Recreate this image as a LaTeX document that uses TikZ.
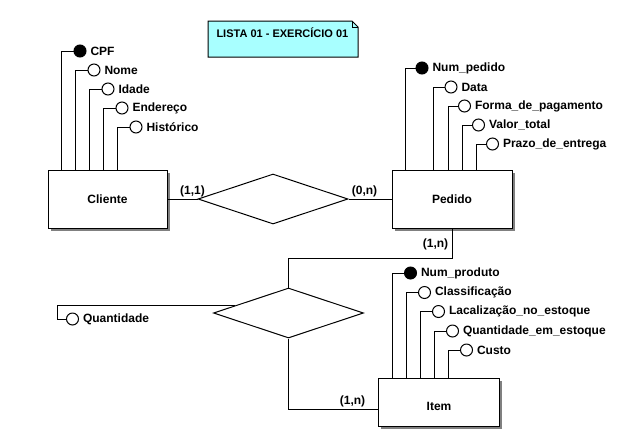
\documentclass[tikz,border=0pt]{standalone}
\usepackage{fontspec}
\setmainfont{Liberation Sans}
\usepackage{tikz}
\usetikzlibrary{shapes.geometric,shadows}
\definecolor{notacyan}{RGB}{168,255,255}

\tikzset{
  entidade/.style={draw, fill=white, inner sep=0pt, font=\bfseries\fontsize{12}{14}\selectfont,
    general shadow={fill=gray, shadow xshift=2.5pt, shadow yshift=-2.5pt}},
  relacao/.style={draw, diamond, inner sep=0pt, minimum width=150pt, minimum height=50pt},
  chave/.style={draw, circle, fill=black, minimum size=12pt, inner sep=0pt},
  atributo/.style={chave, fill=white},
  rotulo/.style={font=\bfseries\fontsize{12}{14}\selectfont, inner sep=1.5pt},
  titulo/.style={font=\bfseries\fontsize{11}{13}\selectfont, inner sep=1.5pt}
}

\begin{document}
\begin{tikzpicture}[x=1pt, y=-1pt, line width=1pt,
    every label/.style={rotulo}, label distance=2pt]
          \path[use as bounding box, fill=white] (0,0) rectangle (617,440);

          % title note
          \draw[fill=notacyan] (208,21) -- (352,21) -- (358,27) -- (358,57) -- (208,57) -- cycle;
          \draw (352,21) -- (352,27) -- (358,27);
          \node[titulo, anchor=west] (lista) at (214.5,32.5) {LISTA 01 - EXERCÍCIO 01};

          % Cliente
          \node[entidade, minimum width=119pt, minimum height=58pt] (cliente) at (107.5,199) {Cliente};
          \node[chave, label=right:CPF] (cpf) at (80,51) {};
          \node[atributo, label=right:Nome] (nome) at (94,70) {};
          \node[atributo, label=right:Idade] (idade) at (108,89) {};
          \node[atributo, label=right:Endereço] (endereco) at (122,108) {};
          \node[atributo, label=right:Histórico] (historico) at (136,127) {};
          \draw (cpf.west) -| ([xshift=14pt]cliente.north west);
          \draw (nome.west) -| ([xshift=28pt]cliente.north west);
          \draw (idade.west) -| ([xshift=42pt]cliente.north west);
          \draw (endereco.west) -| ([xshift=56pt]cliente.north west);
          \draw (historico.west) -| ([xshift=70pt]cliente.north west);

          % Pedido
          \node[entidade, minimum width=120pt, minimum height=58pt] (pedido) at (452,199) {Pedido};
          \node[chave, label=right:Num\_pedido] (numped) at (422,68) {};
          \node[atributo, label=right:Data] (data) at (451,87) {};
          \node[atributo, label=right:Forma\_de\_pagamento] (forma) at (464.5,106) {};
          \node[atributo, label=right:Valor\_total] (valor) at (478.5,125) {};
          \node[atributo, label=right:Prazo\_de\_entrega] (prazo) at (492.5,144) {};
          \draw (numped.west) -| ([xshift=14pt]pedido.north west);
          \draw (data.west) -| ([xshift=42pt]pedido.north west);
          \draw (forma.west) -| ([xshift=56.5pt]pedido.north west);
          \draw (valor.west) -| ([xshift=70.5pt]pedido.north west);
          \draw (prazo.west) -| ([xshift=84.5pt]pedido.north west);

          % Item
          \node[entidade, minimum width=121pt, minimum height=48.5pt] (item) at (439,402.5) {\raisebox{-4pt}[\height][\depth]{Item}};
          \node[chave, label=right:Num\_produto] (numprod) at (410.5,273) {};
          \node[atributo, label=right:Classificação] (classif) at (424.5,292.5) {};
          \node[atributo, label=right:Lacalização\_no\_estoque] (localiz) at (438.5,311.5) {};
          \node[atributo, label=right:Quantidade\_em\_estoque] (qtdest) at (452.5,331) {};
          \node[atributo, label=right:Custo] (custo) at (466.5,350) {};
          \draw (numprod.west) -| ([xshift=14pt]item.north west);
          \draw (classif.west) -| ([xshift=28pt]item.north west);
          \draw (localiz.west) -| ([xshift=42pt]item.north west);
          \draw (qtdest.west) -| ([xshift=56pt]item.north west);
          \draw (custo.west) -| ([xshift=70pt]item.north west);

          % Cliente -- Pedido
          \node[relacao] (faz) at (273,199) {};
          \draw (cliente.east) -- (faz.west);
          \draw (faz.east) -- (pedido.west);
          \node[rotulo] (card11) at (192.5,191) {(1,1)};
          \node[rotulo] (card0n) at (364.5,191) {(0,n)};

          % Pedido -- Item
          \node[relacao] (contem) at (288.5,313) {};
          \coordinate (dobra) at (288.5,258.5);
          \draw (contem.north) -- (dobra) -| (pedido.south);
          \draw (contem.south) |- ([yshift=-6.5pt]item.west);
          \node[rotulo] (card1n) at (435.5,244) {(1,n)};
          \node[rotulo] (card1nb) at (352.5,401.5) {(1,n)};

          % relationship attribute
          \node[atributo, label=right:Quantidade] (qtd) at (72.5,319) {};
          \coordinate (qdobra) at (57,0);
          \draw (contem.172) -| (qdobra |- qtd) -- (qtd.west);
\end{tikzpicture}
\end{document}
